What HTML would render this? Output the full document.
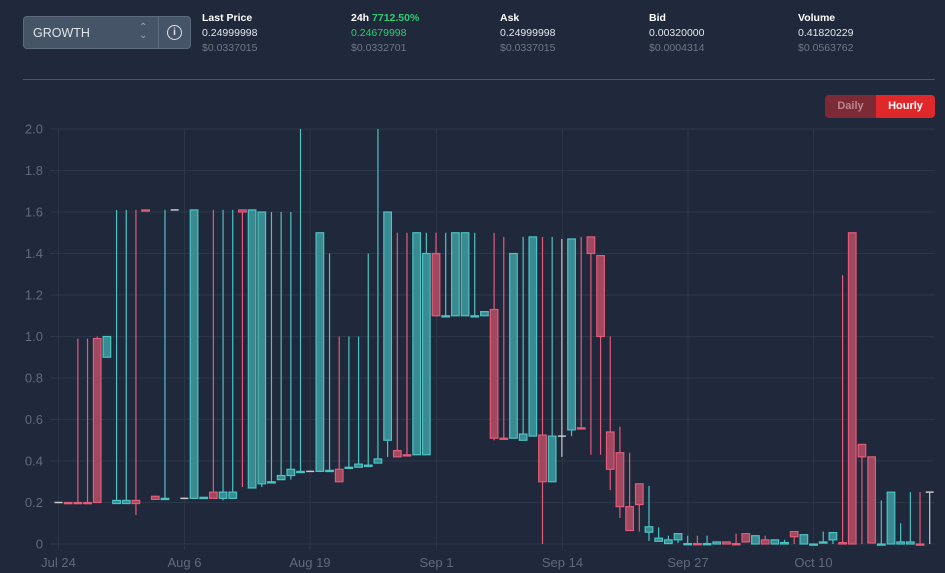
<!DOCTYPE html>
<html><head><meta charset="utf-8"><style>
body{margin:0;width:945px;height:573px;background:#1f293b;font-family:"Liberation Sans",sans-serif;overflow:hidden;position:relative}
.sel{position:absolute;left:23px;top:16px;width:166px;height:31px;border:1px solid #5d6b7e;border-radius:4px;background:#465468}
.sel .t{position:absolute;left:9px;top:9px;color:#dfe4ea;font-size:12.5px}
.sel .ar{position:absolute;left:115px;top:7px;color:#9aa5b3;font-size:10px;line-height:8px}
.sel .div{position:absolute;left:134px;top:0;width:1px;height:31px;background:#5d6b7e}
.sel .i{position:absolute;left:143px;top:8px;width:13px;height:13px;border:1.3px solid #dfe4ea;border-radius:50%;color:#dfe4ea;font-size:10px;text-align:center;line-height:13px;font-weight:bold}
.col{position:absolute;top:11px;font-size:10.5px;line-height:15px}
.col b{color:#fff;display:block}
.col .v{color:#e3e7ec}.col .u{color:#6e7887}
.hr{position:absolute;left:23px;top:79px;width:912px;height:1px;background:#4a5567}
.btn{position:absolute;top:95px;height:23px;font-size:11px;line-height:23px;text-align:center;font-weight:bold}
</style></head><body>
<div class="sel"><span class="t">GROWTH</span><span class="ar">⌃<br>⌄</span><div class="div"></div><div class="i">i</div></div>
<div class="col" style="left:202px"><b>Last Price</b><span class="v">0.24999998</span><br><span class="u">$0.0337015</span></div>
<div class="col" style="left:351px"><b>24h <span style="color:#2ecc71">7712.50%</span></b><span class="v" style="color:#2ecc71">0.24679998</span><br><span class="u">$0.0332701</span></div>
<div class="col" style="left:500px"><b>Ask</b><span class="v">0.24999998</span><br><span class="u">$0.0337015</span></div>
<div class="col" style="left:649px"><b>Bid</b><span class="v">0.00320000</span><br><span class="u">$0.0004314</span></div>
<div class="col" style="left:798px"><b>Volume</b><span class="v">0.41820229</span><br><span class="u">$0.0563762</span></div>
<div class="hr"></div>
<div class="btn" style="left:825px;width:51px;background:#7b2a36;color:#b9868c;border-radius:4px 0 0 4px">Daily</div>
<div class="btn" style="left:876px;width:59px;background:#e0282b;color:#fff;border-radius:0 4px 4px 0">Hourly</div>
<svg id="c" width="945" height="573" style="position:absolute;left:0;top:0"></svg>
<script>
var s='',Y=function(v){return 544-207.5*v};
for(var k=0;k<=10;k++){var v=k*0.2,y=Y(v);s+='<line x1="50" x2="935" y1="'+y+'" y2="'+y+'" stroke="#2b3648" stroke-width="1"/>';
s+='<text x="43" y="'+(y+4.5)+'" fill="#5f6a7a" font-size="13" text-anchor="end" font-family="Liberation Sans">'+(k==0?'0':v.toFixed(1))+'</text>';}
var d=[['Jul 24',58.5],['Aug 6',184.5],['Aug 19',310],['Sep 1',436.5],['Sep 14',562.5],['Sep 27',688],['Oct 10',813.5]];
d.forEach(function(a){s+='<line x1="'+a[1]+'" x2="'+a[1]+'" y1="129" y2="550" stroke="#2b3648"/><text x="'+a[1]+'" y="567" fill="#5f6a7a" font-size="13" text-anchor="middle" font-family="Liberation Sans">'+a[0]+'</text>';});
var C=[[.2,.2,.2,.2,'g'],[.2,.2,.2,.2,'r'],[.2,.2,.99,.2,'r'],[.2,.2,.99,.2,'r'],[.2,.99,1,.2,'r'],[.9,1,1,.9,'t'],
[.195,.21,1.61,.195,'t'],[.195,.21,1.61,.195,'t'],[.195,.21,1.61,.14,'r'],[1.605,1.61,1.61,1.605,'r'],[.215,.23,.23,.215,'r'],[.22,.22,1.61,.22,'t'],[1.61,1.61,1.61,1.61,'g'],[.22,.22,.22,.22,'g'],
[.22,1.61,1.61,.22,'t'],[.225,.225,.225,.225,'t'],[.22,.25,1.61,.22,'r'],[.22,.25,1.61,.21,'t'],[.22,.25,1.61,.22,'t'],[1.6,1.61,1.61,.275,'r'],[.27,1.61,1.61,.27,'t'],[.29,1.6,1.6,.275,'t'],
[.3,.3,1.6,.3,'t'],[.31,.33,1.6,.31,'t'],[.33,.36,1.6,.31,'t'],[.35,.35,2,.35,'t'],[.35,.35,.35,.35,'g'],[.35,1.5,1.5,.35,'t'],[.355,.355,1.4,.355,'t'],[.3,.36,1,.3,'r'],[.37,.37,1,.37,'t'],[.37,.385,1,.37,'t'],
[.38,.38,1.4,.37,'t'],[.39,.41,2,.39,'t'],[.5,1.6,1.6,.42,'t'],[.42,.45,1.5,.42,'r'],[.43,.43,1.5,.43,'r'],[.43,1.5,1.5,.43,'t'],[.43,1.4,1.5,.43,'t'],[1.1,1.4,1.5,1.1,'r'],[1.1,1.1,1.5,1.1,'t'],[1.1,1.5,1.5,1.1,'t'],[1.1,1.5,1.5,1.1,'t'],
[1.1,1.1,1.5,1.1,'t'],[1.1,1.12,1.12,1.1,'t'],[.51,1.13,1.5,.5,'r'],[.51,.51,1.48,.51,'r'],[.51,1.4,1.4,.51,'t'],[.5,.53,1.48,.5,'t'],[.52,1.48,1.48,.52,'t'],[.3,.525,1.48,0,'r'],[.3,.52,1.48,.3,'t'],[.52,.52,1.47,.42,'g'],
[.55,1.47,1.47,.52,'t'],[.56,.56,1.48,.56,'r'],[1.4,1.48,1.48,.43,'r'],[1,1.39,1.39,.43,'r'],[.36,.54,1,.26,'r'],[.18,.44,.565,.125,'r'],[.065,.18,.44,.065,'r'],[.19,.29,.29,.06,'r'],[.057,.083,.28,.015,'t'],
[.013,.028,.08,.013,'t'],[.002,.02,.04,.002,'t'],[.02,.05,.05,.005,'t'],[.002,.002,.04,.002,'t'],[.002,.002,.04,.002,'r'],[.002,.002,.04,.002,'t'],[0,.01,.01,0,'t'],[0,.01,.01,0,'r'],[.002,.002,.05,.002,'r'],
[.01,.05,.05,.01,'r'],[0,.04,.04,0,'t'],[0,.02,.04,0,'r'],[0,.02,.02,0,'t'],[0,.007,.02,0,'t'],[.035,.06,.06,0,'r'],[0,.045,.045,0,'t'],[0,0,0,0,'t'],[.005,.01,.06,.005,'t'],[.02,.055,.055,0,'t'],[0,.007,1.296,0,'r'],
[0,1.5,1.5,0,'r'],[.42,.48,.48,0,'r'],[.005,.42,.42,.005,'r'],[0,0,.21,0,'t'],[0,.25,.25,0,'t'],[0,.01,.1,0,'t'],[0,.01,.25,0,'t'],[0,0,.25,0,'r'],[.25,.25,.25,0,'g']];
var col={t:['#4cc3c3','#3a8b91'],r:['#e45a77','#a0485f'],g:['#c8c8c8','#c8c8c8']};
C.forEach(function(c,i){var x=58.5+9.68*i,k=col[c[4]];
s+='<line x1="'+x+'" x2="'+x+'" y1="'+Y(c[2])+'" y2="'+Y(c[3])+'" stroke="'+k[0]+'" stroke-width="1.2"/>';
var t=Y(c[1]),b=Y(c[0]),h=Math.max(b-t,1.2);
if(c[4]=='g')s+='<line x1="'+(x-4)+'" x2="'+(x+4)+'" y1="'+t+'" y2="'+t+'" stroke="'+k[0]+'" stroke-width="1.5"/>';
else s+='<rect x="'+(x-3.8)+'" y="'+t+'" width="7.6" height="'+h+'" fill="'+k[1]+'" stroke="'+k[0]+'" stroke-width="1.2"/>';});
document.getElementById('c').innerHTML=s;
</script>
</body></html>
